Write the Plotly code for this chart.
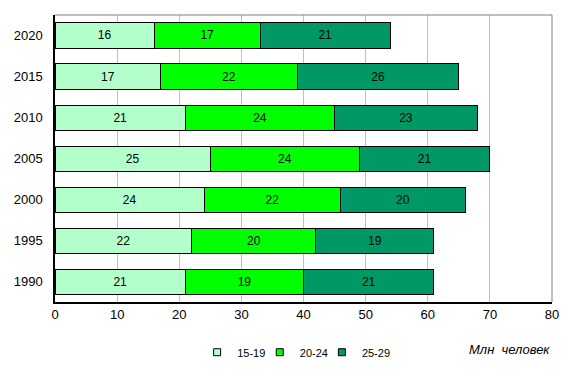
import plotly.graph_objects as go

years = ["1990", "1995", "2000", "2005", "2010", "2015", "2020"]
age_15_19 = [21, 22, 24, 25, 21, 17, 16]
age_20_24 = [19, 20, 22, 24, 24, 22, 17]
age_25_29 = [21, 19, 20, 21, 23, 26, 21]
series_names = ["15-19", "20-24", "25-29"]
colors = ["#b3ffcc", "#00ff00", "#009966"]

fig = go.Figure()
for name, vals, col in zip(series_names, [age_15_19, age_20_24, age_25_29], colors):
    fig.add_trace(go.Bar(
        y=years, x=vals, name=name, orientation="h", showlegend=False,
        marker=dict(color=col, line=dict(color="black", width=1)),
        text=[str(v) for v in vals], textposition="inside",
        insidetextanchor="middle", textangle=0, constraintext="none",
        textfont=dict(color="black", size=12, family="Liberation Sans, Arial"),
        hoverinfo="skip",
    ))
# legend entries with small square swatches, one legend each for precise spacing
legend_ids = ["legend", "legend2", "legend3"]
legend_x = [0.286, 0.412, 0.537]
for name, col, lid in zip(series_names, colors, legend_ids):
    fig.add_trace(go.Scatter(
        x=[None], y=[None], mode="markers", name=name, showlegend=True, legend=lid,
        marker=dict(symbol="square", size=7, color=col, line=dict(color="black", width=1)),
    ))

leg_common = dict(orientation="h", xanchor="left", y=-0.175, yanchor="middle",
                  font=dict(size=11), bgcolor="rgba(0,0,0,0)")

# page body has an 8px default margin; size figure so the page fits the window
fig.update_layout(
    barmode="stack",
    bargap=0.39,
    width=568, height=361,
    margin=dict(l=47, r=24, t=7, b=67, autoexpand=False),
    paper_bgcolor="white", plot_bgcolor="white",
    font=dict(family="Liberation Sans, Arial", size=12, color="black"),
    showlegend=True,
    legend=dict(x=legend_x[0], **leg_common),
    legend2=dict(x=legend_x[1], **leg_common),
    legend3=dict(x=legend_x[2], **leg_common),
    xaxis=dict(range=[0, 80], dtick=10, showgrid=True, gridcolor="#c0c0c0", gridwidth=1,
               zeroline=False, showline=True, linecolor="black", linewidth=1.5,
               mirror=False, ticks="", tickfont=dict(size=13), fixedrange=True,
               automargin=False),
    yaxis=dict(type="category", categoryorder="array", categoryarray=years,
               showline=True, linecolor="black", linewidth=1.5, ticks="",
               ticklabelstandoff=8, tickfont=dict(size=13), showgrid=False,
               automargin=False),
    annotations=[dict(text="<i>Млн  человек</i>", xref="paper", yref="paper",
                      x=1.0, y=-0.165, xanchor="right", yanchor="middle",
                      showarrow=False, font=dict(size=13))],
    shapes=[
        dict(type="line", xref="paper", yref="paper", x0=0, x1=1, y0=1, y1=1,
             line=dict(color="#808080", width=1)),
        dict(type="line", xref="paper", yref="paper", x0=1, x1=1, y0=0, y1=1,
             line=dict(color="#808080", width=1)),
    ],
)

fig.write_html("out.html")
